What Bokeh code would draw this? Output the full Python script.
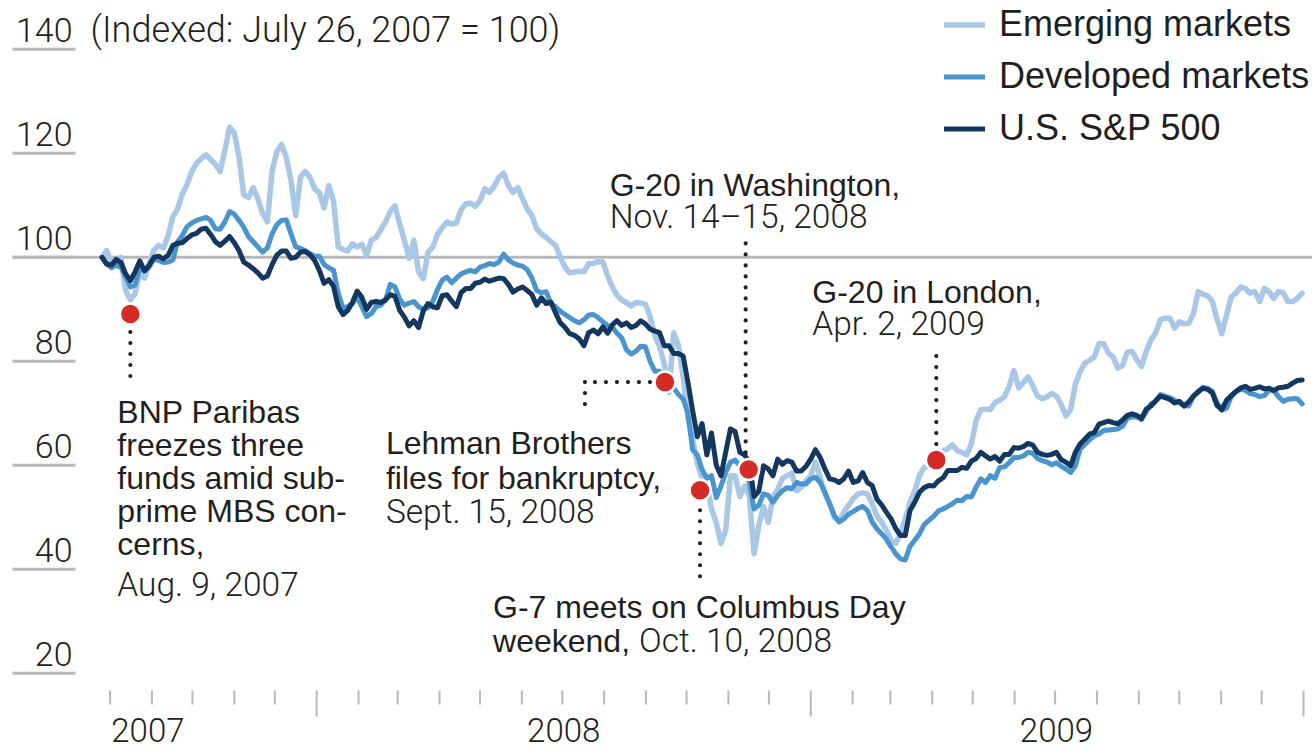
import pandas as pd
from bokeh.plotting import figure
from bokeh.models import Range1d, Legend, LegendItem, ColumnDataSource
from bokeh.core.properties import value
from bokeh.embed import file_html
from bokeh.resources import INLINE

# ---------------------------------------------------------------- data
# Twice-weekly readings (every 3.5 days), indexed: July 26, 2007 = 100
series_start = "2007-07-26"
emerging = [
    100.0, 101.3, 99.0, 99.5, 100.0, 93.7, 91.8, 93.0, 96.9, 96.0,
    98.8, 101.4, 102.3, 101.8, 104.2, 107.8, 109.3, 112.2, 114.0, 116.5,
    118.0, 119.0, 119.7, 118.8, 117.9, 116.5, 120.5, 125.0, 124.0, 119.3,
    112.0, 111.5, 113.4, 111.2, 108.4, 106.8, 116.6, 120.3, 121.7, 119.2,
    114.8, 108.0, 115.4, 116.5, 115.4, 113.2, 112.4, 109.5, 113.8, 110.8,
    102.0, 101.5, 101.2, 102.6, 102.0, 102.5, 100.4, 103.3, 103.8, 105.3,
    106.8, 108.8, 109.9, 106.4, 103.3, 99.8, 103.3, 97.2, 95.9, 101.0,
    101.9, 104.4, 105.7, 106.8, 106.4, 106.6, 109.1, 110.3, 110.4, 109.8,
    110.9, 113.2, 112.5, 113.6, 115.4, 116.2, 113.8, 112.5, 113.4, 111.3,
    109.3, 108.0, 105.5, 104.5, 103.8, 103.0, 102.3, 100.0, 98.1, 97.0,
    97.2, 97.3, 97.2, 98.8, 98.8, 99.2, 99.1, 96.5, 94.3, 92.7,
    91.8, 91.3, 90.6, 91.3, 91.2, 91.0, 88.6, 85.0, 82.8, 79.5,
    74.0, 85.5, 83.0, 77.0, 69.0, 65.0, 60.3, 57.4, 56.4, 51.6,
    49.0, 45.0, 47.5, 58.0, 58.0, 54.0, 56.0, 54.2, 43.0, 48.4,
    52.1, 49.0, 53.9, 55.4, 57.5, 58.0, 58.5, 55.1, 55.8, 57.0,
    58.0, 60.6, 57.7, 54.5, 52.6, 50.0, 49.2, 51.0, 52.3, 53.6,
    54.5, 54.7, 54.5, 52.6, 50.3, 49.1, 47.5, 45.6, 45.0, 46.9,
    49.7, 52.9, 55.1, 58.0, 59.6, 59.8, 60.6, 61.2, 62.8, 63.2,
    63.9, 62.8, 62.5, 62.0, 64.1, 68.6, 70.7, 70.8, 70.7, 72.1,
    72.5, 73.2, 75.2, 78.2, 74.9, 75.9, 77.0, 75.3, 73.3, 72.8,
    73.2, 73.8, 73.3, 71.7, 69.5, 70.7, 75.6, 78.0, 79.6, 80.2,
    80.8, 83.4, 83.4, 81.6, 80.8, 78.7, 79.2, 81.8, 81.9, 80.3,
    79.0, 81.9, 84.1, 85.5, 88.0, 88.3, 88.3, 86.4, 87.6, 87.2,
    87.3, 89.2, 93.4, 92.9, 92.6, 91.5, 88.0, 85.3, 88.9, 92.4,
    93.1, 94.3, 94.0, 93.1, 93.4, 91.5, 94.0, 93.4, 92.1, 93.4,
    93.2, 91.5, 91.5, 92.1, 93.1,
]
developed = [
    100.0, 98.7, 98.0, 98.5, 98.1, 96.3, 94.3, 94.7, 98.0, 97.4,
    98.1, 99.8, 99.4, 99.0, 99.1, 99.5, 103.0, 104.2, 105.9, 106.6,
    107.1, 107.4, 107.7, 107.1, 105.5, 105.4, 106.8, 108.8, 108.3, 107.1,
    105.8, 104.0, 103.0, 102.0, 101.0, 101.8, 104.5, 106.3, 107.1, 107.2,
    104.5, 102.0, 101.7, 101.3, 100.7, 100.2, 100.2, 98.6, 98.0, 97.5,
    93.1, 90.2, 90.5, 91.1, 92.4, 90.5, 88.6, 89.2, 90.5, 90.8,
    91.8, 94.8, 94.3, 92.0, 90.8, 91.2, 91.5, 90.5, 90.0, 90.3,
    91.5, 93.8, 95.6, 96.2, 95.1, 96.0, 96.8, 97.2, 97.5, 97.2,
    98.1, 98.4, 98.8, 98.6, 99.1, 100.6, 99.5, 98.9, 98.5, 98.3,
    97.6, 96.0, 93.6, 93.2, 93.4, 91.1, 90.5, 89.6, 89.0, 88.4,
    87.8, 87.4, 88.0, 88.9, 89.0, 88.4, 87.6, 86.9, 86.6, 85.4,
    84.5, 82.2, 81.4, 81.9, 82.9, 82.8, 80.0, 78.1, 78.1, 76.5,
    76.0, 74.9, 73.6, 72.7, 70.1, 63.0, 62.0, 59.2, 57.5, 58.0,
    53.8, 56.0, 58.6, 60.6, 61.0, 59.9, 58.6, 56.7, 51.6, 52.3,
    54.5, 54.2, 52.9, 54.2, 55.1, 55.7, 55.5, 56.7, 56.4, 56.4,
    57.4, 57.7, 56.7, 54.8, 52.6, 50.3, 49.1, 49.7, 50.6, 51.1,
    51.7, 52.1, 51.3, 49.1, 47.8, 46.8, 45.8, 44.3, 43.0, 42.0,
    41.8, 44.4, 45.6, 46.8, 48.6, 49.4, 50.2, 51.2, 51.6, 52.1,
    52.6, 53.3, 53.2, 54.0, 53.9, 55.8, 57.4, 56.7, 58.0, 57.5,
    59.6, 59.7, 60.5, 61.5, 61.5, 61.8, 62.5, 62.3, 61.3, 60.9,
    60.6, 60.1, 60.5, 59.8, 59.3, 58.6, 59.9, 63.1, 64.0, 64.9,
    65.7, 66.0, 66.7, 66.8, 66.9, 67.0, 67.5, 69.0, 69.3, 69.3,
    68.8, 70.3, 71.8, 72.3, 73.6, 73.3, 73.0, 72.5, 72.0, 71.5,
    71.4, 73.3, 74.0, 75.0, 74.8, 74.2, 72.0, 70.6, 71.0, 73.2,
    74.2, 74.6, 74.4, 73.8, 73.6, 73.2, 73.4, 74.5, 74.4, 73.2,
    72.3, 72.7, 72.8, 72.8, 71.8,
]
sp500 = [
    100.0, 98.7, 98.5, 99.6, 99.0, 96.8, 95.5, 97.2, 99.3, 97.4,
    98.5, 100.0, 100.2, 99.7, 100.4, 102.3, 102.7, 102.8, 103.6, 104.3,
    104.6, 105.4, 105.6, 104.4, 103.0, 102.3, 103.1, 104.0, 102.8, 101.3,
    99.1, 98.5, 97.8, 97.0, 96.0, 96.4, 98.6, 100.4, 101.2, 101.2,
    99.8, 100.0, 101.0, 101.1, 100.5, 99.4, 97.5, 95.0, 95.7, 94.4,
    90.5, 89.0, 89.8, 91.3, 93.5, 92.3, 90.0, 91.3, 91.5, 91.3,
    91.8, 92.8, 92.5, 89.8, 88.5, 86.8, 87.8, 86.5, 89.7, 91.1,
    90.5, 90.3, 92.6, 92.8, 91.6, 90.5, 93.2, 94.0, 94.0, 95.0,
    95.2, 95.8, 95.4, 95.7, 96.0, 95.9, 94.8, 93.3, 93.9, 94.3,
    93.6, 92.8, 90.8, 92.2, 91.1, 91.4, 89.3, 87.4, 86.5, 85.3,
    85.0, 84.3, 83.0, 85.5, 86.0, 85.3, 86.6, 85.4, 87.0, 87.8,
    86.9, 87.4, 86.5, 86.9, 87.8, 87.2, 86.2, 85.8, 85.5, 83.0,
    83.0, 81.5, 81.5, 81.0, 76.0, 70.5, 65.5, 68.0, 62.0, 66.2,
    60.0, 58.0, 62.5, 67.0, 66.5, 62.5, 62.0, 60.5, 54.0, 55.0,
    59.9, 59.3, 58.0, 61.2, 60.2, 60.9, 60.6, 58.9, 58.9, 59.8,
    61.2, 63.0, 61.5, 59.3, 57.4, 57.2, 56.7, 57.4, 58.9, 56.7,
    57.0, 58.6, 56.7, 56.1, 53.5, 52.4, 51.0, 49.7, 47.8, 46.5,
    46.5, 51.3, 52.9, 54.8, 55.7, 56.1, 56.0, 57.0, 57.6, 59.0,
    59.0, 59.0, 59.6, 59.4, 60.8, 61.3, 62.5, 61.8, 61.2, 61.7,
    60.8, 62.1, 62.1, 63.4, 63.3, 63.6, 64.2, 63.9, 62.5, 62.1,
    61.9, 62.1, 62.5, 61.1, 60.6, 59.9, 62.5, 64.1, 65.0, 66.0,
    66.3, 67.9, 68.2, 68.5, 68.2, 68.0, 68.7, 69.6, 69.9, 69.6,
    69.0, 70.8, 71.4, 72.4, 73.3, 73.0, 72.7, 72.0, 72.3, 71.4,
    72.2, 73.3, 74.2, 74.8, 74.6, 73.9, 71.5, 70.7, 72.5, 73.4,
    74.2, 74.9, 75.2, 74.6, 74.8, 75.1, 74.7, 74.8, 74.4, 74.9,
    75.0, 75.2, 75.8, 76.3, 76.4,
]
series_names = ["Emerging markets", "Developed markets", "U.S. S&P 500"]

y_ticks = [20, 40, 60, 80, 100, 120, 140]
subtitle = "(Indexed: July 26, 2007 = 100)"
year_labels = ["2007", "2008", "2009"]
year_label_dates = ["2007-08-29", "2008-07-02", "2009-07-02"]
month_tick_first = "2007-08-01"
month_tick_last = "2010-01-01"

event_dates = ["2007-08-16", "2008-09-15", "2008-10-11", "2008-11-16", "2009-04-04"]
event_values = [89.1, 76.0, 55.2, 59.2, 61.0]
event_text = [
    ["BNP Paribas", "freezes three", "funds amid sub-", "prime MBS con-", "cerns,"],
    ["Lehman Brothers", "files for bankruptcy,"],
    ["G-7 meets on Columbus Day", "weekend,"],
    ["G-20 in Washington,"],
    ["G-20 in London,"],
]
event_date_text = ["Aug. 9, 2007", "Sept. 15, 2008", "Oct. 10, 2008",
                   "Nov. 14\u201315, 2008", "Apr. 2, 2009"]

# ---------------------------------------------------------------- layout
W, H = 1312, 749
PX_PER_DAY = 1.35
PX_PER_UNIT = 5.2
ORIGIN_X = 101.5    # px from left edge where the series start
ORIGIN_Y = 256.8    # px from top edge of the value 100
DAY = 86400000.0
TFIX = -11.5        # baseline correction for text glyphs (px)

C_EM, C_DEV, C_SP = "#a9c7e6", "#4a95cd", "#13375f"
C_TEXT = "#231f20"
C_GRAY = "#b9b9bd"
C_RED = "#d52b27"
REG = "Liberation Sans"
LIGHT = "Roboto Light"


def ms(d):
    return pd.Timestamp(d).value / 1e6


X0 = ms(series_start) - ORIGIN_X / PX_PER_DAY * DAY
X1 = X0 + W / PX_PER_DAY * DAY
Y_TOP = 100 + ORIGIN_Y / PX_PER_UNIT
Y_BOT = Y_TOP - H / PX_PER_UNIT


def px_x(px):
    return X0 + px / PX_PER_DAY * DAY


def px_y(py):
    return Y_TOP - py / PX_PER_UNIT


p = figure(width=W, height=H, x_axis_type="datetime",
           x_axis_location=None, y_axis_location=None,
           x_range=Range1d(X0, X1), y_range=Range1d(Y_BOT, Y_TOP),
           output_backend="svg", toolbar_location=None, min_border=0,
           outline_line_color=None, background_fill_color="white",
           border_fill_color="white")
p.grid.visible = False

# 100 reference line
p.segment(x0=[px_x(12)], y0=[100], x1=[X1], y1=[100], line_color=C_GRAY, line_width=3)

# y tick underlines and labels
p.scatter(x=[px_x(43.5)] * len(y_ticks), y=y_ticks, marker="dash", size=63,
          line_color=C_GRAY, line_width=3)
p.text(x=[X0] * len(y_ticks), y=y_ticks, text=[str(t) for t in y_ticks],
       x_offset=72, y_offset=-8 + TFIX, text_align="right", text_baseline="alphabetic",
       text_font=value(LIGHT), text_font_size="34px", text_color=C_TEXT)
p.text(x=[X0], y=[y_ticks[-1]], text=[subtitle], x_offset=90, y_offset=-8 + TFIX,
       text_align="left", text_baseline="alphabetic",
       text_font=value(LIGHT), text_font_size="36px", text_color=C_TEXT)

# x ticks (monthly, year boundaries longer)
months = pd.date_range(month_tick_first, month_tick_last, freq="MS")
mx = [ms(m) for m in months]
tick_bottom = [px_y(716) if m.month == 1 else px_y(704) for m in months]
p.segment(x0=mx, y0=[px_y(690)] * len(mx), x1=mx, y1=tick_bottom,
          line_color=C_GRAY, line_width=2)
p.text(x=[ms(d) for d in year_label_dates], y=[px_y(741)] * len(year_labels),
       text=year_labels, y_offset=TFIX, text_align="center", text_baseline="alphabetic",
       text_font=value(LIGHT), text_font_size="33px", text_color=C_TEXT)

# series
dates = pd.date_range(series_start, periods=len(sp500), freq="84h")
src = ColumnDataSource(dict(x=[ms(d) for d in dates], em=emerging, dev=developed, sp=sp500))
r_em = p.line("x", "em", source=src, line_color=C_EM, line_width=5.5,
              line_join="round", line_cap="round")
r_dev = p.line("x", "dev", source=src, line_color=C_DEV, line_width=5,
               line_join="round", line_cap="round")
r_sp = p.line("x", "sp", source=src, line_color=C_SP, line_width=5,
              line_join="round", line_cap="round")

# event leaders (pixel offsets from each event dot)
leaders = [
    [(0, 18, 0, 64)],
    [(-15, 0, -80, 0), (-80, 0, -80, 31)],
    [(0, 20, 0, 88)],
    [(-3, -17, -3, -237)],
    [(0, -16, 0, -112)],
]
ex = [ms(d) for d in event_dates]
lx0, ly0, lx1, ly1 = [], [], [], []
for i, segs in enumerate(leaders):
    for (a, b, c, d) in segs:
        lx0.append(ex[i] + a / PX_PER_DAY * DAY)
        ly0.append(event_values[i] - b / PX_PER_UNIT)
        lx1.append(ex[i] + c / PX_PER_DAY * DAY)
        ly1.append(event_values[i] - d / PX_PER_UNIT)
p.segment(x0=lx0, y0=ly0, x1=lx1, y1=ly1, line_color="#222222", line_width=4.2,
          line_dash="0 11", line_cap="round")

p.scatter(x=ex, y=event_values, size=21, fill_color=C_RED,
          line_color="white", line_width=2.5)

# event texts: (dx, first baseline dy, pitch, date dx, date dy)
text_layout = [
    (-13, 110, 33, -13, 282),
    (-279, 72, 35, -279, 141),
    (-207, 128, 34, -61, 162),
    (-139, -273, 32, -139, -241),
    (-124, -157, 32, -124, -125),
]
rx, ry, rt, rdx, rdy = [], [], [], [], []
lx, ly, lt, ldx, ldy = [], [], [], [], []
for i, lines in enumerate(event_text):
    dx, dy0, pitch, ddx, ddy = text_layout[i]
    for j, s in enumerate(lines):
        rx.append(ex[i]); ry.append(event_values[i]); rt.append(s)
        rdx.append(dx); rdy.append(dy0 + j * pitch + TFIX)
    lx.append(ex[i]); ly.append(event_values[i]); lt.append(event_date_text[i])
    ldx.append(ddx); ldy.append(ddy + TFIX)
p.text(x=rx, y=ry, text=rt, x_offset=rdx, y_offset=rdy, text_align="left",
       text_baseline="alphabetic", text_font=value(REG), text_font_size="32px",
       text_color=C_TEXT)
p.text(x=lx, y=ly, text=lt, x_offset=ldx, y_offset=ldy, text_align="left",
       text_baseline="alphabetic", text_font=value(LIGHT), text_font_size="33.5px",
       text_color=C_TEXT)

# legend (location = bottom-left corner, measured from the frame's bottom-left)
legend = Legend(items=[LegendItem(label=series_names[0], renderers=[r_em]),
                       LegendItem(label=series_names[1], renderers=[r_dev]),
                       LegendItem(label=series_names[2], renderers=[r_sp])],
                location=(944, H - 149), orientation="vertical",
                glyph_width=41, glyph_height=39, label_height=39, spacing=10,
                padding=0, margin=0, border_line_color=None,
                background_fill_alpha=0, label_standoff=14,
                label_text_font=REG, label_text_font_size="36px",
                label_text_color=C_TEXT)
p.add_layout(legend)

open("out.html", "w").write(file_html(p, INLINE))
